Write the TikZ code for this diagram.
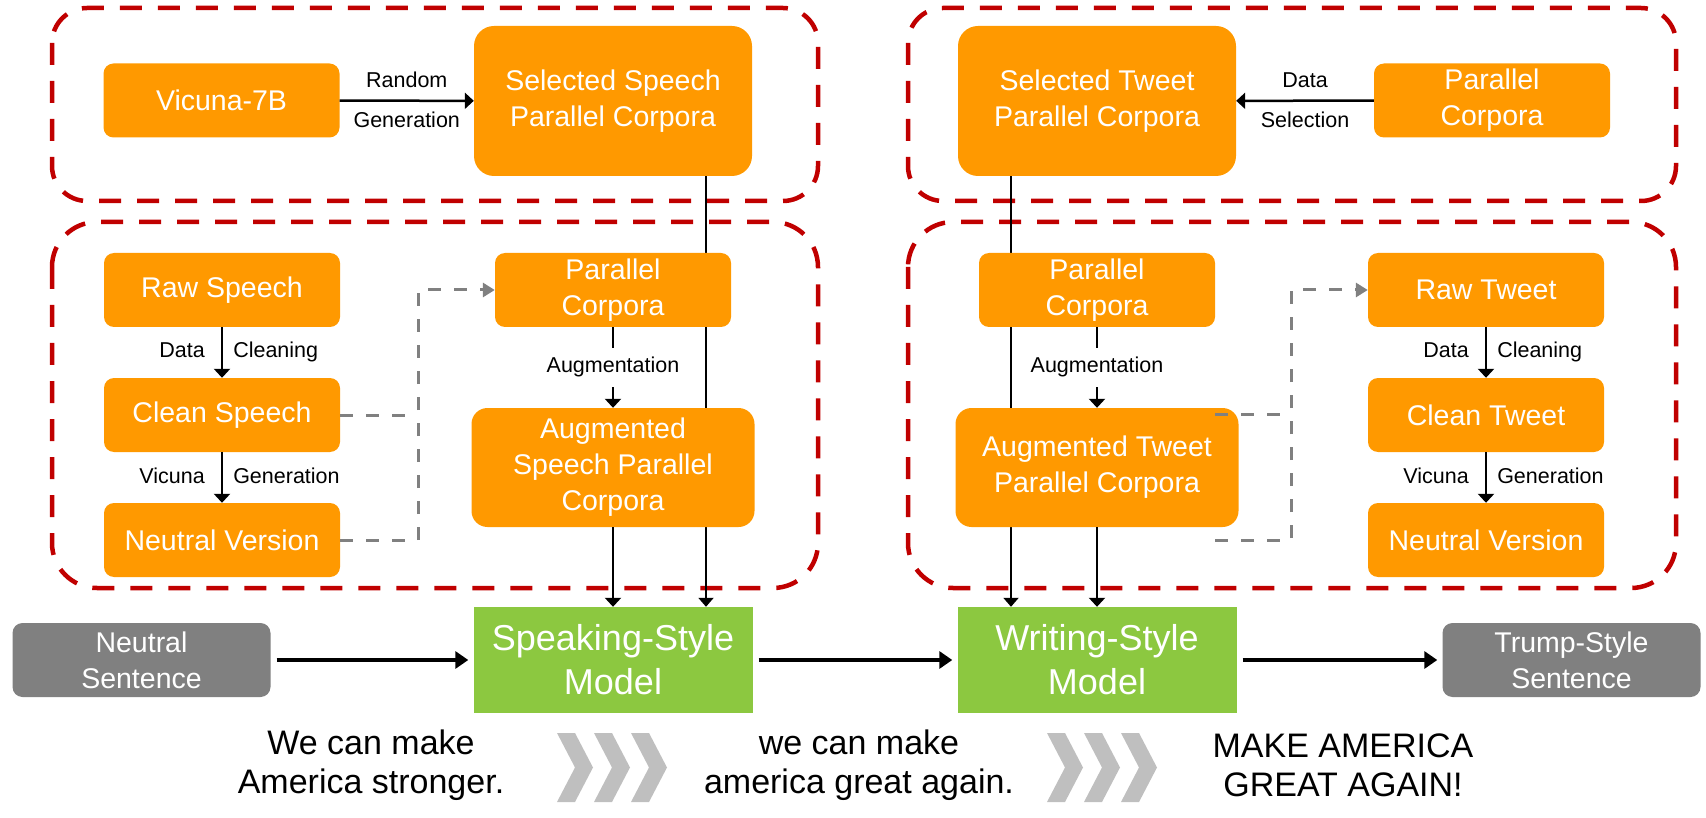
\documentclass[tikz,border=0pt]{standalone}
\usepackage{fontspec}
\setmainfont{Liberation Sans}
\usetikzlibrary{arrows.meta}
\usetikzlibrary{backgrounds}
\definecolor{boxorange}{RGB}{255,153,0}
\definecolor{modelgreen}{RGB}{140,200,64}
\definecolor{groupred}{RGB}{192,0,0}
\definecolor{sentgray}{RGB}{128,128,128}
\definecolor{chevgray}{RGB}{191,191,191}
\newcommand*{\orangefont}{\fontsize{28.5}{36}\selectfont}
\newcommand*{\lblfont}{\fontsize{21.5}{26}\selectfont}
\newcommand*{\modelfont}{\fontsize{36}{44}\selectfont}
\newcommand*{\samplefont}{\fontsize{34}{39}\selectfont}

\begin{document}
\begin{tikzpicture}[x=1pt, y=-1pt,
    orangebox/.style={fill=boxorange, text=white, rounded corners=10pt, inner sep=0pt, minimum width=236pt, minimum height=74pt, align=center, font=\orangefont},
    bigbox/.style={orangebox, rounded corners=20pt, minimum width=278pt, minimum height=150pt},
    augbox/.style={orangebox, rounded corners=16pt, minimum width=283pt, minimum height=119pt},
    modelbox/.style={fill=modelgreen, text=white, inner sep=0pt, minimum width=279pt, minimum height=106pt, align=center, font=\modelfont},
    sentbox/.style={fill=sentgray, text=white, rounded corners=10pt, inner sep=0pt, minimum width=258pt, minimum height=74pt, align=center, font=\orangefont},
    grpbox/.style={draw=groupred, line width=4.5pt, dash pattern=on 22pt off 16pt},
    arr/.style={draw, line width=2.5pt, -{Triangle[length=9pt,width=16pt]}},
    thinarr/.style={draw, line width=2pt, -{Triangle[length=9pt,width=15pt]}},
    bigarr/.style={draw, line width=3.5pt, -{Triangle[length=13pt,width=17pt]}, shorten <=6pt, shorten >=5pt},
    gdash/.style={draw=sentgray, line width=3pt, dash pattern=on 13pt off 13pt},
    gdasharr/.style={gdash, -{Triangle[length=12pt,width=14pt]}},
    lbl/.style={font=\lblfont, text height=16pt, text depth=5pt, inner sep=4pt},
    chev/.style={fill=chevgray},
    sample/.style={font=\samplefont, align=center}
]
    \useasboundingbox (0,0) rectangle (1706,818);
    % speech side, top group
    \node[orangebox] (vic) at (221.5,100.5) {Vicuna-7B};
    \node[bigbox] (sel1) at (613,101) {Selected Speech\\Parallel Corpora};
    \draw[arr] (vic) -- node[lbl, above=3pt] {Random} node[lbl, below=6pt] {Generation} (sel1);
    % speech side, lower group
    \node[orangebox] (raw1) at (222,290) {Raw Speech};
    \node[orangebox] (cln1) at (222,415) {Clean Speech};
    \node[orangebox] (neu1) at (222,540) {Neutral Version};
    \node[orangebox] (pc1) at (613,290) {Parallel\\Corpora};
    \node[augbox] (aug1) at (613,467.5) {Augmented\\Speech Parallel\\Corpora};
    \draw[arr] (raw1) -- node[lbl, left=12pt] {Data} node[lbl, right=6pt] {Cleaning} (cln1);
    \draw[arr] (cln1) -- node[lbl, left=12pt] {Vicuna} node[lbl, right=6pt] {Generation} (neu1);
    \draw[arr] (pc1) -- node[lbl, fill=white, inner ysep=9pt] {Augmentation} (aug1);
    \draw[gdash] (cln1.east) -- ++(78,0);
    \draw[gdasharr] (neu1.east) -- ++(78,0) |- (pc1.west);
    % tweet side, top group
    \node[bigbox] (sel2) at (1097,101) {Selected Tweet\\Parallel Corpora};
    \node[orangebox] (par2) at (1492,100.5) {Parallel\\Corpora};
    \draw[arr] (par2) -- node[lbl, above=3pt] {Data} node[lbl, below=6pt] {Selection} (sel2);
    % tweet side, lower group
    \node[orangebox] (pc2) at (1097,290) {Parallel\\Corpora};
    \node[augbox] (aug2) at (1097,467.5) {Augmented Tweet\\Parallel Corpora};
    \node[orangebox] (raw2) at (1486,290) {Raw Tweet};
    \node[orangebox] (cln2) at (1486,415) {Clean Tweet};
    \node[orangebox] (neu2) at (1486,540) {Neutral Version};
    \draw[arr] (pc2) -- node[lbl, fill=white, inner ysep=9pt] {Augmentation} (aug2);
    \draw[arr] (raw2) -- node[lbl, left=12pt] {Data} node[lbl, right=6pt] {Cleaning} (cln2);
    \draw[arr] (cln2) -- node[lbl, left=12pt] {Vicuna} node[lbl, right=6pt] {Generation} (neu2);
    \coordinate (tw1) at (1215,414);
    \coordinate (tw2) at (1215,540);
    \draw[gdash] (tw1) -- ++(76,0);
    \draw[gdasharr] (tw2) -- ++(76,0) |- (raw2.west);
    % models and sentences
    \node[sentbox] (nsent) at (141.5,660) {Neutral\\Sentence};
    \node[modelbox] (spk) at (613,660) {Speaking-Style\\Model};
    \node[modelbox] (wrt) at (1097,660) {Writing-Style\\Model};
    \node[sentbox] (tsent) at (1571.5,660) {Trump-Style\\Sentence};
    \draw[bigarr] (nsent) -- (spk);
    \draw[bigarr] (spk) -- (wrt);
    \draw[bigarr] (wrt) -- (tsent);
    \draw[arr] (aug1) -- (spk);
    \draw[arr] (aug2) -- (wrt);
    % example sentences
    \node[sample] (s1) at (371,765) {We can make\\America stronger.};
    \node[sample] (s2) at (859,765) {we can make\\america great again.};
    \node[sample] (s3) at (1343,765) {MAKE AMERICA\\GREAT AGAIN!};
    \foreach \cx in {557,594,631,1047,1084,1121}
        \fill[chev] (\cx,733) -- ++(18,0) -- ++(18,34.5) -- ++(-18,34.5) -- ++(-18,0) -- ++(18,-34.5) -- cycle;
    % groups and long lines behind the boxes
    \begin{scope}[on background layer]
        \draw[grpbox, rounded corners=35pt] (52,8) rectangle (818,201);
        \draw[grpbox, rounded corners=45pt] (52,222) rectangle (818,588);
        \draw[grpbox, rounded corners=35pt] (908,8) rectangle (1676,201);
        \draw[grpbox, rounded corners=45pt] (908,222) rectangle (1676,588);
        \draw[thinarr] ([xshift=93pt]sel1.south) -- ([xshift=93pt]spk.north);
        \draw[thinarr] ([xshift=-86pt]sel2.south) -- ([xshift=-86pt]wrt.north);
    \end{scope}
\end{tikzpicture}
\end{document}
